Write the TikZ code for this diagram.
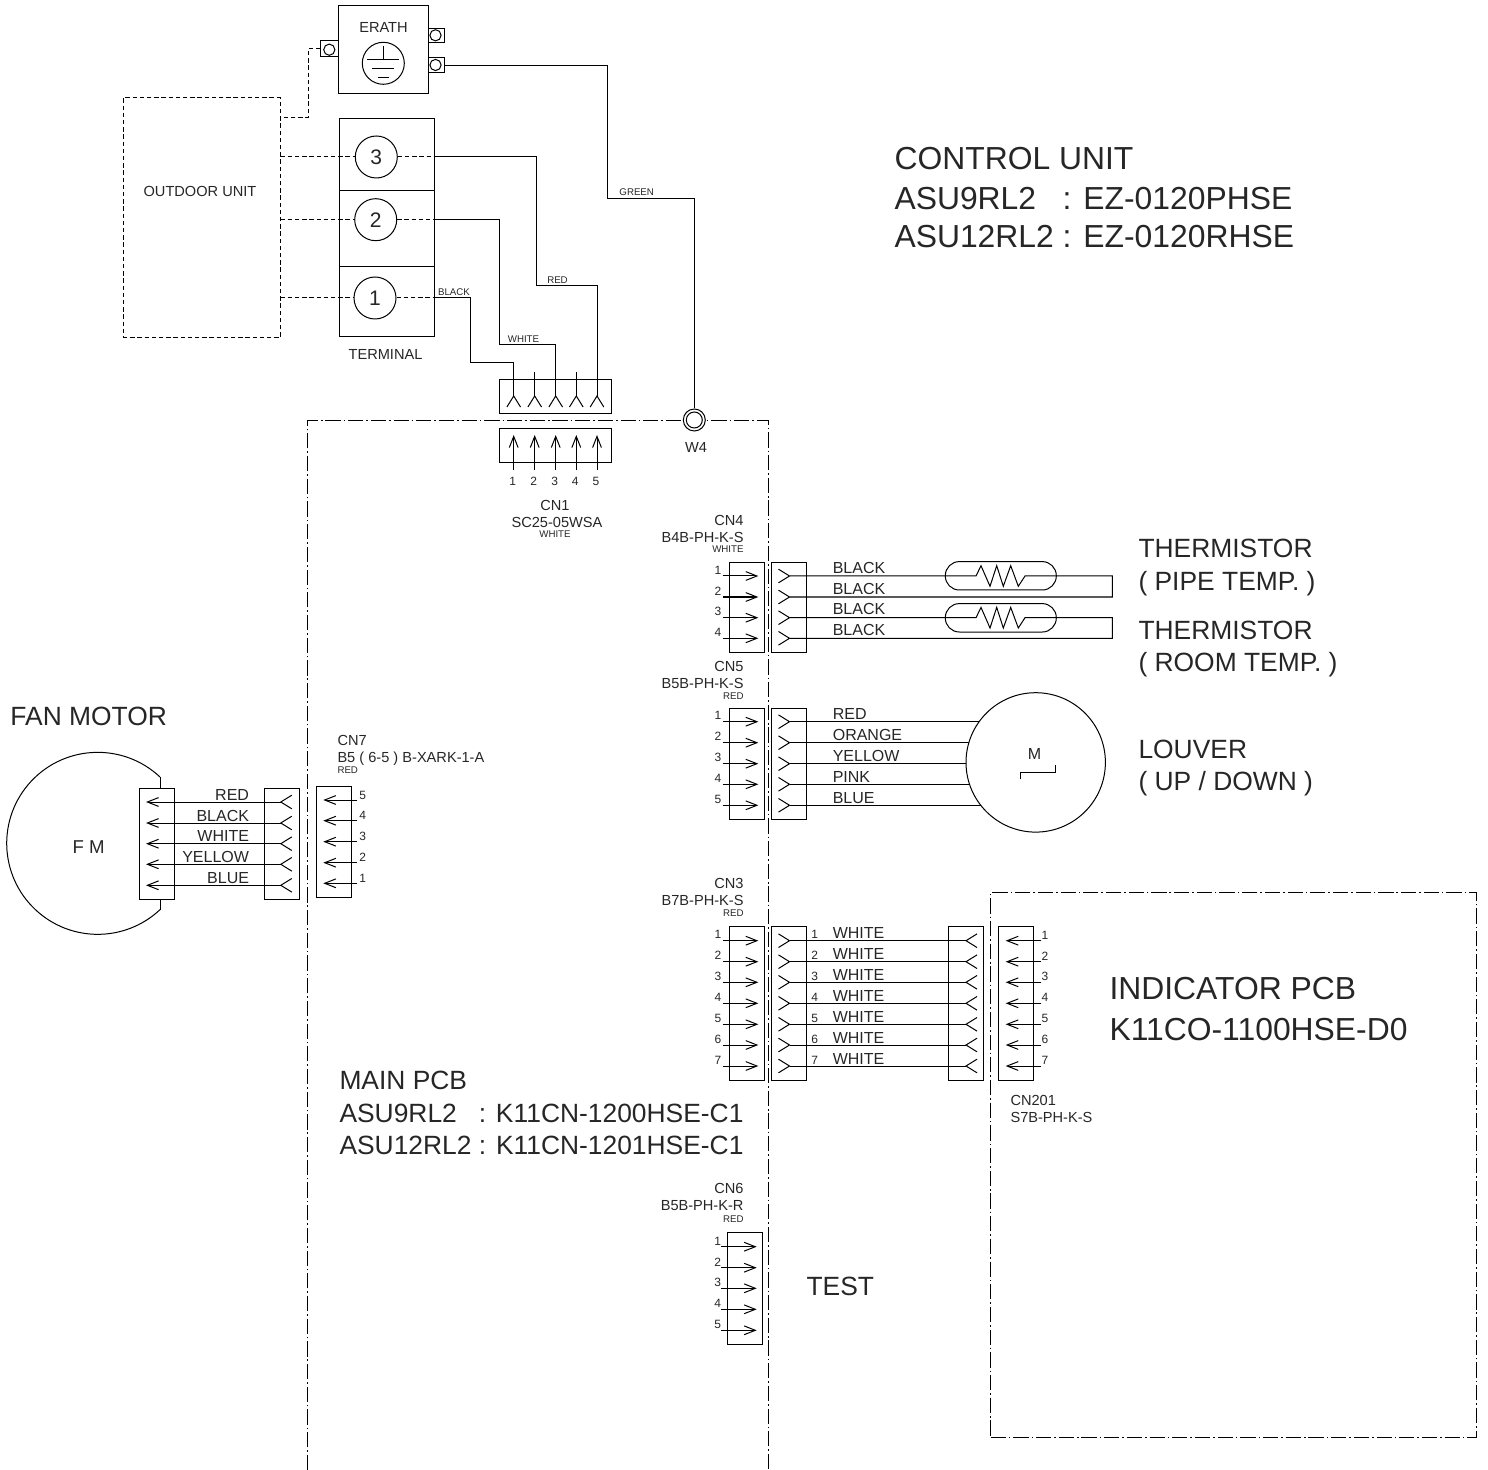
\documentclass[tikz,border=0pt]{standalone}
\usepackage{fontspec}
\setmainfont{Liberation Sans}
\usetikzlibrary{arrows.meta}

\tikzset{
  pinf/.tip={Straight Barb[length=5.5pt,width=6.8pt,reversed]},
  pcbline/.style={dash pattern=on 7.6pt off 1.5pt on 0.8pt off 1.45pt},
  odline/.style={dash pattern=on 2.2pt off 1.4pt},
  pinbox/.style={draw, inner sep=0, minimum width=17.5pt},
  plainbox/.style={draw, inner sep=0},
  termcirc/.style={draw, circle, inner sep=0, minimum size=21pt, fill=white, font=\fontsize{10.5}{11}\selectfont},
  lugcirc/.style={draw, circle, inner sep=0, minimum size=5.6pt},
  tinytxt/.style={inner sep=0, text depth=0pt, font=\fontsize{4.85}{5}\selectfont},
  smalltxt/.style={inner sep=0, text depth=0pt, font=\fontsize{7.3}{8}\selectfont},
  pinno/.style={inner sep=0, font=\fontsize{6}{7}\selectfont},
  wiretxt/.style={inner sep=0, text depth=0pt, anchor=west, font=\fontsize{8}{9}\selectfont},
  midtxt/.style={inner sep=0, text height=9.6pt, text depth=0pt, anchor=west, font=\fontsize{13.2}{14}\selectfont},
  bigtxt/.style={inner sep=0, text height=11.4pt, text depth=0pt, anchor=west, font=\fontsize{15.93}{17}\selectfont},
}

\begin{document}
\begin{tikzpicture}[x=0.5pt, y=-0.5pt, line width=0.5pt, text=black!85,
    >={Straight Barb[length=5.6pt,width=4.4pt]}]
\useasboundingbox (0,0) rectangle (1488,1470);

% outdoor side
\node[draw, odline, minimum width=78.5pt, minimum height=120pt, inner sep=0] (odu) at (201.5,218) {};
\node[smalltxt] (odulb) at (200,191) {OUTDOOR UNIT};

% earth block
\node[plainbox, minimum width=45.2pt, minimum height=43.7pt] (erath) at (383.5,49.4) {};
\node[smalltxt] (erathlb) at (383.5,27) {ERATH};
\node[draw, circle, inner sep=0, minimum size=21pt] (gnd) at (383.3,63.3) {};
\draw (383.5,46.3) -- (383.5,60);
\draw (367.3,60) -- (399.3,60);
\draw (372.3,68.3) -- (394.3,68.3);
\draw (378,77.3) -- (389.3,77.3);
\node[plainbox, minimum width=8.8pt, minimum height=7.8pt] (tabl) at (329.5,48.5) {};
\node[plainbox, minimum width=7.8pt, minimum height=7.2pt] (tabr) at (436.5,35.5) {};
\node[plainbox, minimum width=7.8pt, minimum height=7.2pt] (tabg) at (436.5,65.2) {};
\node[lugcirc] (lugl) at (329.3,49.7) {};
\node[lugcirc] (lugr) at (435.5,35.3) {};
\node[lugcirc] (lugg) at (435.5,65) {};
\coordinate (odue) at (280,117.3);
\draw[odline] (tabl.west) -- (308.3,48.5) -- (308.3,117.3) -- (odue);

% terminal
\node[plainbox, minimum width=47.2pt, minimum height=35.8pt] (tb3) at (387,154.5) {};
\node[plainbox, minimum width=47.2pt, minimum height=38.2pt] (tb2) at (387,228.5) {};
\node[plainbox, minimum width=47.2pt, minimum height=34.7pt] (tb1) at (387,301.4) {};
\node[termcirc] (t3) at (376.3,157) {3};
\node[termcirc] (t2) at (375.7,219.7) {2};
\node[termcirc] (t1) at (375,298) {1};
\node[smalltxt] (tblb) at (385.5,354.7) {TERMINAL};
\foreach \i in {1,2,3}{
  \draw[odline] (odu.east |- t\i) -- (t\i.west);
  \draw[odline] (t\i.east) -- (t\i -| tb\i.east);
}

% connector CN1
\node[plainbox, minimum width=55.8pt, minimum height=17.3pt] (cn1f) at (555.5,396.7) {};
\node[plainbox, minimum width=55.8pt, minimum height=17.3pt] (cn1m) at (555.5,445.7) {};
\foreach \i/\xx in {1/513.7,2/534.7,3/555.7,4/576.3,5/597}{
  \coordinate (cn1a\i) at (\xx,407.5);
  \coordinate (cn1b\i) at (\xx,372.3);
  \coordinate (cn1c\i) at (\xx,470);
  \coordinate (cn1d\i) at (\xx,435);
  \draw[->] (cn1c\i) -- (cn1d\i);
  \node[pinno] (cn1n\i) at (\xx-1,481) {\i};
}
\draw[-pinf] (cn1b2) -- (cn1a2);
\draw[-pinf] (cn1b4) -- (cn1a4);

% wires to CN1
\draw[-pinf] (t1 -| tb1.east) -- (470,298) -- (470,362.3) -- (513.7,362.3) -- (cn1a1);
\draw[-pinf] (t2 -| tb2.east) -- (499.7,219.7) -- (499.7,344.7) -- (555.7,344.7) -- (cn1a3);
\draw[-pinf] (t3 -| tb3.east) -- (536.3,157) -- (536.3,285.7) -- (597,285.7) -- (cn1a5);
\node[tinytxt] (blklb) at (454,292.5) {BLACK};
\node[tinytxt] (whtlb) at (523.5,339) {WHITE};
\node[tinytxt] (redlb) at (557.5,280) {RED};

% main pcb outline
\coordinate (pcbl) at (307.5,1470);
\coordinate (pcbr) at (768,1470);
\draw[pcbline] (pcbl) |- (768,421) -- (pcbr);
\node[draw, circle, fill=white, inner sep=0, minimum size=11pt] (w4) at (694.3,420) {};
\node[draw, circle, inner sep=0, minimum size=8pt] (w4c) at (694.3,420) {};
\node[smalltxt] (w4lb) at (696,447) {W4};
\draw (tabg.east) -- (607.3,65.2) -- (607.3,199) -- (694.3,199) -- (w4.north);
\node[tinytxt] (grnlb) at (636.7,192.5) {GREEN};

\node[smalltxt] (cn1t) at (555,505) {CN1};
\node[smalltxt] (cn1p) at (557,522) {SC25-05WSA};
\node[tinytxt] (cn1c) at (555,534.5) {WHITE};

% connector labels on the right of the board
\foreach \nm/\ptype/\clr/\ya/\yb/\yc in {cn4/B4B-PH-K-S/WHITE/520/537.3/549.3,
    cn5/B5B-PH-K-S/RED/666/683/695.7, cn3/B7B-PH-K-S/RED/883.3/900/912.7,
    cn6/B5B-PH-K-R/RED/1188.3/1205.7/1218.7}{
  \node[smalltxt, anchor=east] (\nm t) at (744,\ya) {\MakeUppercase{\nm}};
  \node[smalltxt, anchor=east] (\nm p) at (744,\yb) {\ptype};
  \node[tinytxt, anchor=east] (\nm c) at (744,\yc) {\clr};
}

% CN4 thermistors
\node[pinbox, minimum height=45pt] (cn4m) at (746.8,607.3) {};
\node[pinbox, minimum height=45pt] (cn4f) at (788.8,607.3) {};
\foreach \i/\yy in {1/576,2/597,3/617.7,4/638.3}{
  \coordinate (cn4a\i) at (722.7,\yy);
  \coordinate (cn4b\i) at (758.3,\yy);
  \coordinate (cn4w\i) at (778,\yy);
  \draw[->] (cn4a\i) -- (cn4b\i);
  \node[pinno] (cn4n\i) at (718,\yy-6) {\i};
  \node[wiretxt] (cn4l\i) at (832.3,\yy-8.5) {BLACK};
}
\node[draw, rounded corners=7pt, inner sep=0, minimum width=55.5pt, minimum height=14.2pt] (capa) at (1000.8,575.8) {};
\node[draw, rounded corners=7pt, inner sep=0, minimum width=55.5pt, minimum height=14.2pt] (capb) at (1000.8,617.8) {};
\draw[pinf-pinf] (cn4w1) -- (976,576) -- ++(5,-10.3) -- ++(9,20.6) -- ++(6.7,-20.6) -- ++(6.6,20.6) -- ++(7.4,-20.6) -- ++(7.6,20.6) -- ++(6.7,-10.3) -- (1112.3,576) -- (1112.3,597) -- (cn4w2);
\draw[pinf-pinf] (cn4w3) -- (976,617.7) -- ++(5,-10.3) -- ++(9,20.6) -- ++(6.7,-20.6) -- ++(6.6,20.6) -- ++(7.4,-20.6) -- ++(7.6,20.6) -- ++(6.7,-10.3) -- (1112.3,617.7) -- (1112.3,638.3) -- (cn4w4);

% CN5 louver motor
\node[pinbox, minimum height=55.5pt] (cn5m) at (746.8,763.8) {};
\node[pinbox, minimum height=55.5pt] (cn5f) at (788.8,763.8) {};
\coordinate (lvc) at (1035.7,762.4);
\foreach \i/\yy/\wc in {1/721.7/RED,2/742.7/ORANGE,3/763.7/YELLOW,4/784.3/PINK,5/805.3/BLUE}{
  \coordinate (cn5a\i) at (722.7,\yy);
  \coordinate (cn5b\i) at (758.3,\yy);
  \coordinate (cn5w\i) at (778,\yy);
  \draw[->] (cn5a\i) -- (cn5b\i);
  \draw[pinf-] (cn5w\i) -- (cn5w\i -| lvc);
  \node[pinno] (cn5n\i) at (718,\yy-6) {\i};
  \node[wiretxt] (cn5l\i) at (832.3,\yy-7.5) {\wc};
}
\node[draw, circle, fill=white, inner sep=0, minimum size=69.7pt] (lvm) at (lvc) {};
\node[inner sep=0, font=\fontsize{8}{9}\selectfont] (lvmlb) at (1034.5,754.3) {M};
\draw (1020,779.3) -- (1020,772) -- (1055,772) -- (1055,765.3);

% fan motor
\draw (160,777) arc[start angle=-46.8, end angle=-313.2, radius=91];
\draw (160,777) -- (160,788);
\draw (160,899) -- (160,909.5);
\node[pinbox, minimum height=55.6pt] (fmm) at (156.5,843.7) {};
\node[pinbox, minimum height=55.6pt] (fmf) at (281.5,843.7) {};
\node[inner sep=0, font=\fontsize{9.3}{10}\selectfont] (fmlb) at (88.7,847) {F M};
\foreach \i/\yy/\wc in {1/802/RED,2/823/BLACK,3/843.7/WHITE,4/864.3/YELLOW,5/885.3/BLUE}{
  \coordinate (fma\i) at (292.3,\yy);
  \coordinate (fmb\i) at (146,\yy);
  \draw[pinf->] (fma\i) -- (fmb\i);
  \node[wiretxt, anchor=east] (fml\i) at (249.5,\yy-7.5) {\wc};
}

% CN7
\node[pinbox, minimum height=55.5pt] (cn7m) at (333.7,841.5) {};
\foreach \i/\yy/\nn in {1/800/5,2/820.7/4,3/841.7/3,4/862.7/2,5/883.3/1}{
  \coordinate (cn7a\i) at (357.3,\yy);
  \coordinate (cn7b\i) at (323.3,\yy);
  \draw[->] (cn7a\i) -- (cn7b\i);
  \node[pinno] (cn7n\i) at (362.7,\yy-5) {\nn};
}
\node[smalltxt, anchor=west] (cn7t) at (337,740) {CN7};
\node[smalltxt, anchor=west] (cn7p) at (337,757.7) {B5 ( 6-5 ) B-XARK-1-A};
\node[tinytxt, anchor=west] (cn7c) at (337,769.7) {RED};

% CN3 and indicator board
\node[pinbox, minimum height=76.7pt] (cn3m) at (746.8,1003.3) {};
\node[pinbox, minimum height=76.7pt] (cn3f) at (788.8,1003.3) {};
\node[pinbox, minimum height=76.7pt] (ipf) at (965.8,1003.3) {};
\node[pinbox, minimum height=76.7pt] (ipm) at (1016.3,1003.3) {};
\foreach \i/\yy in {1/940.7,2/961.7,3/982.3,4/1003.3,5/1024.3,6/1045,7/1066}{
  \coordinate (cn3a\i) at (722.7,\yy);
  \coordinate (cn3b\i) at (758.3,\yy);
  \coordinate (cn3w\i) at (778,\yy);
  \coordinate (ipw\i) at (977.5,\yy);
  \coordinate (ipa\i) at (1041.3,\yy);
  \coordinate (ipb\i) at (1005.7,\yy);
  \draw[->] (cn3a\i) -- (cn3b\i);
  \draw[pinf-pinf] (cn3w\i) -- (ipw\i);
  \draw[->] (ipa\i) -- (ipb\i);
  \node[pinno] (cn3n\i) at (718,\yy-6) {\i};
  \node[pinno] (wrn\i) at (814.7,\yy-6) {\i};
  \node[pinno] (ipn\i) at (1045,\yy-5.5) {\i};
  \node[wiretxt] (cn3l\i) at (832.3,\yy-7.5) {WHITE};
}
\node[smalltxt, anchor=west] (ipt) at (1010,1100) {CN201};
\node[smalltxt, anchor=west] (ipp) at (1010,1117) {S7B-PH-K-S};
\node[draw, pcbline, inner sep=0, minimum width=242.7pt, minimum height=272.2pt] (indpcb) at (1233.3,1164.8) {};

% CN6
\node[pinbox, minimum height=55.6pt] (cn6m) at (745.3,1288.4) {};
\foreach \i/\yy in {1/1246.7,2/1267.7,3/1288.3,4/1309.3,5/1330.3}{
  \coordinate (cn6a\i) at (721,\yy);
  \coordinate (cn6b\i) at (756.7,\yy);
  \draw[->] (cn6a\i) -- (cn6b\i);
  \node[pinno] (cn6n\i) at (717.7,\yy-5.5) {\i};
}

% big labels
\node[bigtxt] (ctl1) at (894,158) {CONTROL UNIT};
\node[bigtxt] (ctl2) at (894,198) {ASU9RL2\ \ \ : EZ-0120PHSE};
\node[bigtxt] (ctl3) at (894,236) {ASU12RL2 : EZ-0120RHSE};
\node[bigtxt] (ind1) at (1109,988) {INDICATOR PCB};
\node[bigtxt] (ind2) at (1109,1029) {K11CO-1100HSE-D0};
\node[midtxt] (fanlb) at (10,716) {FAN MOTOR};
\node[midtxt] (pipe1) at (1138,548) {THERMISTOR};
\node[midtxt] (pipe2) at (1138,581) {( PIPE TEMP. )};
\node[midtxt] (room1) at (1138,630) {THERMISTOR};
\node[midtxt] (room2) at (1138,662) {( ROOM TEMP. )};
\node[midtxt] (lvr1) at (1138,749) {LOUVER};
\node[midtxt] (lvr2) at (1138,781) {( UP / DOWN )};
\node[midtxt] (main1) at (339,1080) {MAIN PCB};
\node[midtxt] (main2) at (339,1113) {ASU9RL2\ \ \ : K11CN-1200HSE-C1};
\node[midtxt] (main3) at (339,1145) {ASU12RL2 : K11CN-1201HSE-C1};
\node[midtxt] (testlb) at (806,1286) {TEST};
\end{tikzpicture}
\end{document}
